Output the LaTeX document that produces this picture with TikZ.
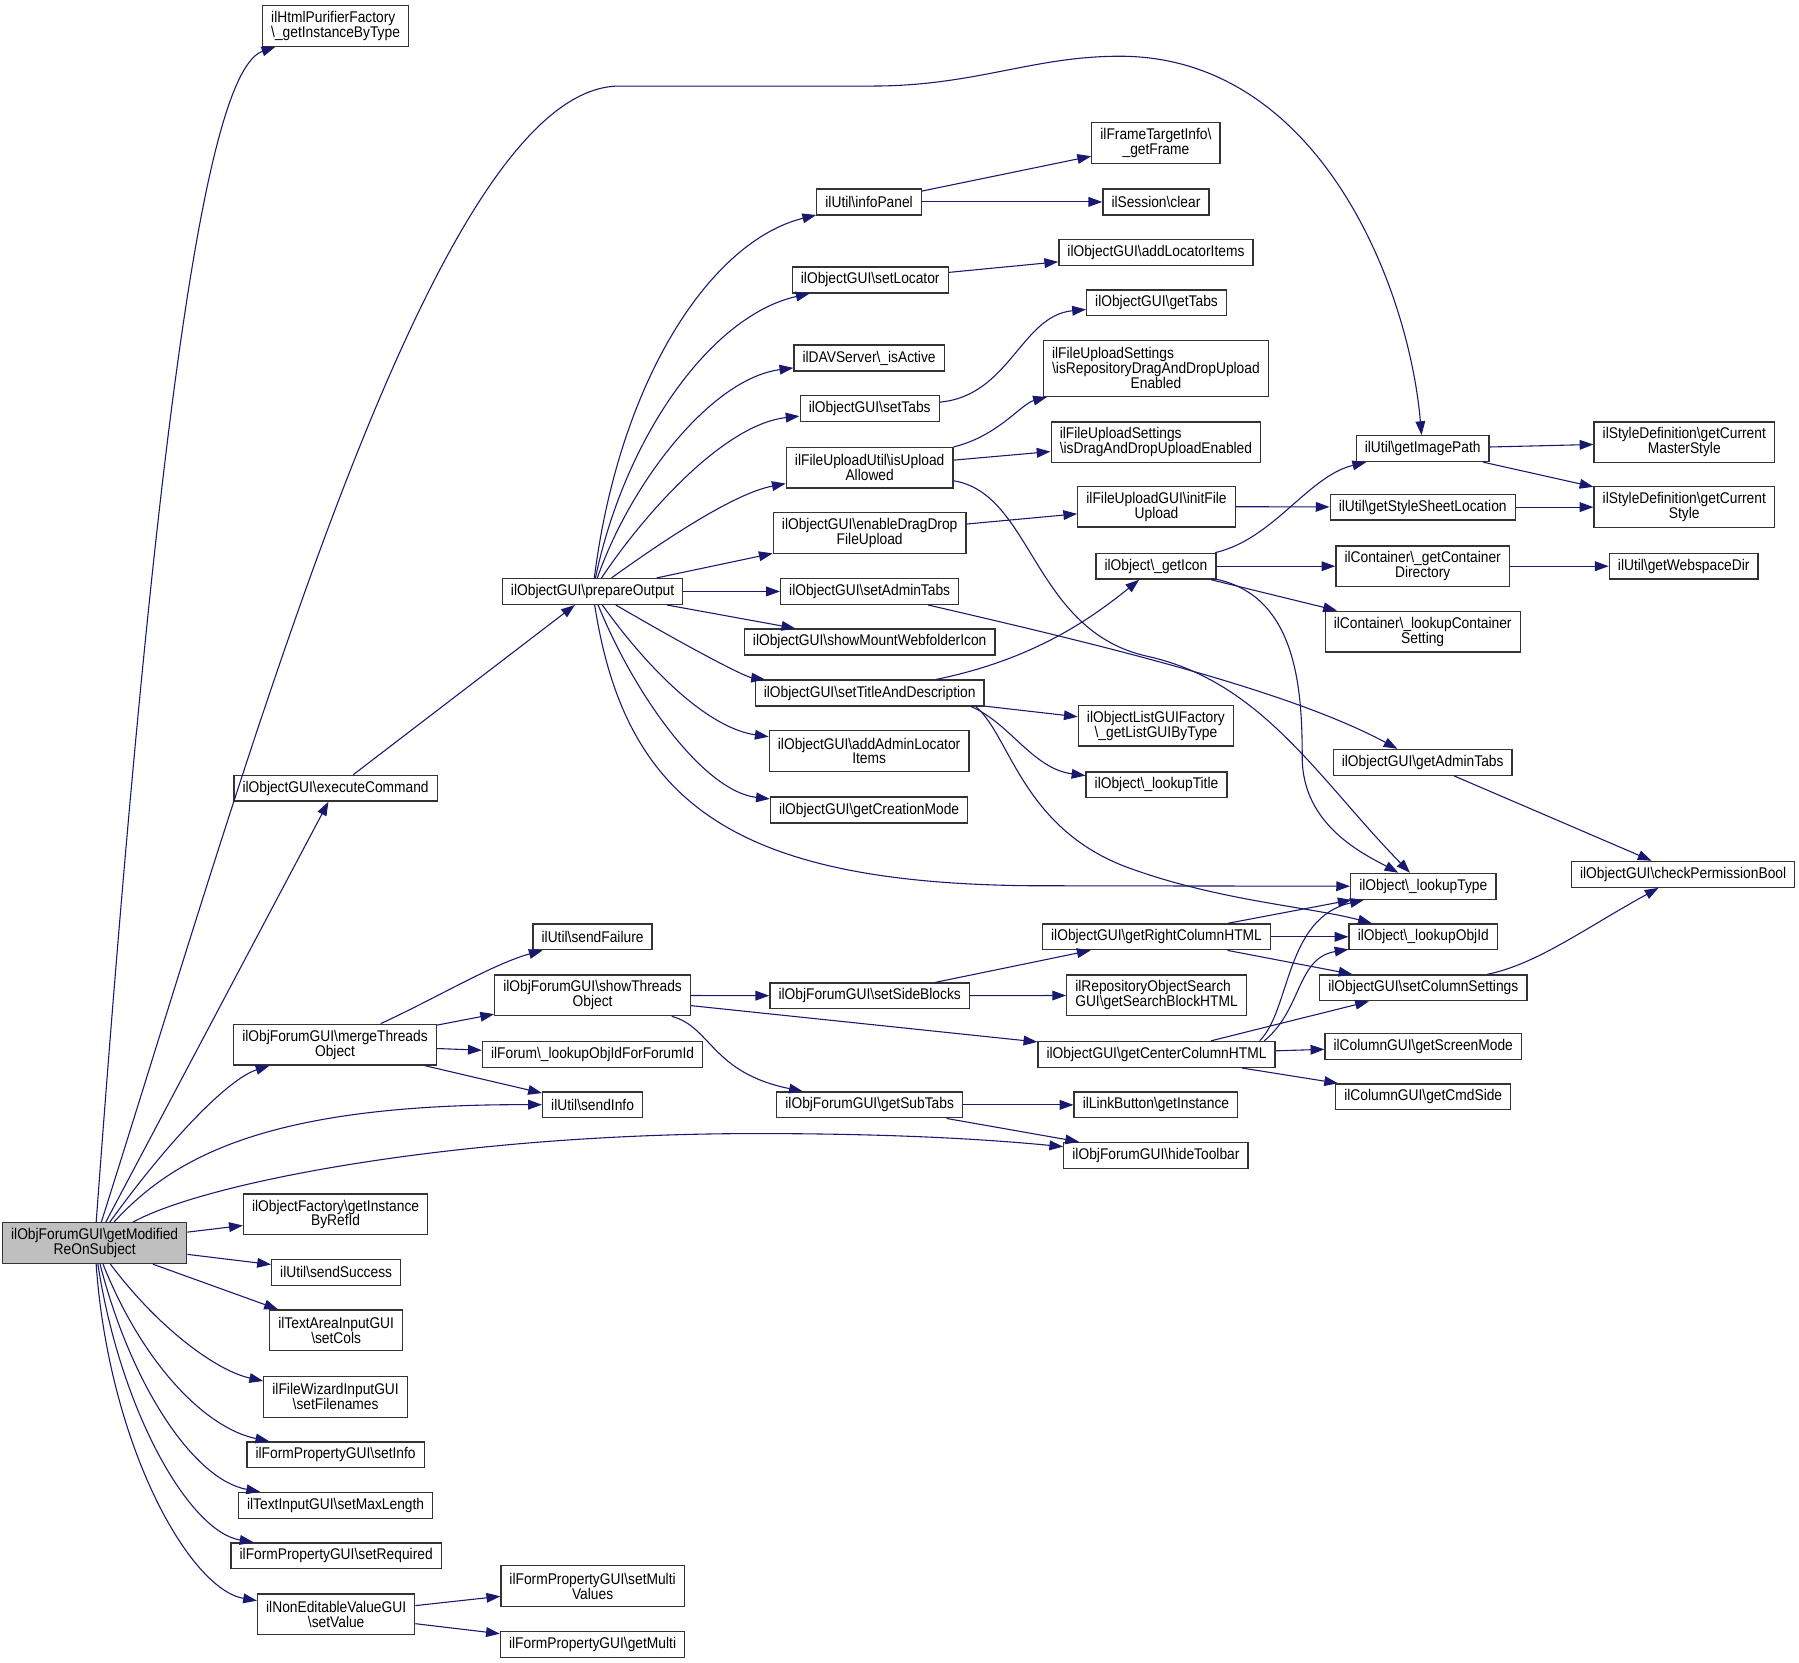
\documentclass[tikz,border=0pt]{standalone}
\usepackage{fontspec}
\setmainfont{Liberation Sans}[FakeStretch=0.89]
\usetikzlibrary{arrows.meta}
\definecolor{edgeblue}{HTML}{191970}
\definecolor{rootgray}{HTML}{BFBFBF}
\newcommand\bs{\textbackslash{}}

\begin{document}
\begin{tikzpicture}[x=1pt, y=1pt,
    fn/.style={draw=black!80, line width=1.15pt, inner xsep=7.5pt, inner ysep=1pt,
      minimum height=22.5pt, align=center, font=\fontsize{13.5}{13}\selectfont},
    fn2/.style={fn, minimum height=35.5pt},
    fn3/.style={fn, minimum height=49pt},
    call/.style={-{Triangle[length=12pt,width=8.5pt]}, draw=edgeblue, line width=0.95pt}]
  \useasboundingbox (0,0) rectangle (1568,-1449);

  \node [fn2, fill=rootgray] (root) at (82.5,-1083.5) {ilObjForumGUI\bs getModified\\ReOnSubject};

  \node [fn2, align=left] (pur) at (292.5,-22.5) {ilHtmlPurifierFactory\\\bs\_getInstanceByType};
  \node [fn] (exec) at (292.5,-687) {ilObjectGUI\bs executeCommand};
  \node [fn2] (merge) at (292,-910.5) {ilObjForumGUI\bs mergeThreads\\Object};
  \node [fn2] (objfac) at (292.5,-1058.5) {ilObjectFactory\bs getInstance\\ByRefId};
  \node [fn] (succ) at (293,-1109) {ilUtil\bs sendSuccess};
  \node [fn2] (cols) at (293,-1159.5) {ilTextAreaInputGUI\\\bs setCols};
  \node [fn2] (fnames) at (292.5,-1217.5) {ilFileWizardInputGUI\\\bs setFilenames};
  \node [fn] (setinfo) at (292.5,-1268) {ilFormPropertyGUI\bs setInfo};
  \node [fn] (maxlen) at (292.5,-1312) {ilTextInputGUI\bs setMaxLength};
  \node [fn] (req) at (293,-1356) {ilFormPropertyGUI\bs setRequired};
  \node [fn2] (setval) at (293,-1407) {ilNonEditableValueGUI\\\bs setValue};

  \node [fn] (prep) at (516.5,-515.5) {ilObjectGUI\bs prepareOutput};
  \node [fn] (fail) at (516.5,-816.5) {ilUtil\bs sendFailure};
  \node [fn2] (threads) at (516.5,-867.5) {ilObjForumGUI\bs showThreads\\Object};
  \node [fn] (forumid) at (516.5,-919) {ilForum\bs\_lookupObjIdForForumId};
  \node [fn] (sinfo) at (516.5,-963) {ilUtil\bs sendInfo};
  \node [fn2] (multiv) at (516.5,-1382.5) {ilFormPropertyGUI\bs setMulti\\Values};
  \node [fn] (getmulti) at (516.5,-1433.5) {ilFormPropertyGUI\bs getMulti};

  \node [fn] (infopanel) at (757.5,-176) {ilUtil\bs infoPanel};
  \node [fn] (setloc) at (758.5,-244) {ilObjectGUI\bs setLocator};
  \node [fn] (dav) at (757.5,-312) {ilDAVServer\bs\_isActive};
  \node [fn] (settabs) at (758,-356) {ilObjectGUI\bs setTabs};
  \node [fn2] (upallowed) at (758,-407.5) {ilFileUploadUtil\bs isUpload\\Allowed};
  \node [fn2] (dragdrop) at (758,-464.5) {ilObjectGUI\bs enableDragDrop\\FileUpload};
  \node [fn] (admintabs) at (758,-515.5) {ilObjectGUI\bs setAdminTabs};
  \node [fn] (mount) at (758,-559.5) {ilObjectGUI\bs showMountWebfolderIcon};
  \node [fn] (titledesc) at (758,-604) {ilObjectGUI\bs setTitleAndDescription};
  \node [fn2] (adminloc) at (757.5,-654.5) {ilObjectGUI\bs addAdminLocator\\Items};
  \node [fn] (creation) at (757.5,-706) {ilObjectGUI\bs getCreationMode};
  \node [fn] (sideblocks) at (758,-868) {ilObjForumGUI\bs setSideBlocks};
  \node [fn] (subtabs) at (758,-963) {ilObjForumGUI\bs getSubTabs};

  \node [fn2] (frame) at (1007.5,-124.5) {ilFrameTargetInfo\bs\\\_getFrame};
  \node [fn] (sessclear) at (1007.5,-176) {ilSession\bs clear};
  \node [fn] (addloc) at (1007.5,-220) {ilObjectGUI\bs addLocatorItems};
  \node [fn] (gettabs) at (1008,-264) {ilObjectGUI\bs getTabs};
  \node [fn3] (repodnd) at (1007.5,-321) {\rlap{ilFileUploadSettings}\hphantom{\bs isRepositoryDragAndDropUpload}\\\bs isRepositoryDragAndDropUpload\\Enabled};
  \node [fn2, align=left] (dnd) at (1007.5,-385.5) {ilFileUploadSettings\\\bs isDragAndDropUploadEnabled};
  \node [fn2] (initfile) at (1008,-441.5) {ilFileUploadGUI\bs initFile\\Upload};
  \node [fn] (geticon) at (1007.5,-493.5) {ilObject\bs\_getIcon};
  \node [fn2] (listgui) at (1007.5,-632.5) {ilObjectListGUIFactory\\\bs\_getListGUIByType};
  \node [fn] (lookuptitle) at (1008,-684) {ilObject\bs\_lookupTitle};
  \node [fn] (rightcol) at (1008,-816.5) {ilObjectGUI\bs getRightColumnHTML};
  \node [fn2, align=left] (searchblock) at (1008,-867.5) {ilRepositoryObjectSearch\\GUI\bs getSearchBlockHTML};
  \node [fn] (centercol) at (1008,-919) {ilObjectGUI\bs getCenterColumnHTML};
  \node [fn] (getinstance) at (1007.5,-963) {ilLinkButton\bs getInstance};
  \node [fn] (hide) at (1007.5,-1007) {ilObjForumGUI\bs hideToolbar};

  \node [fn] (imgpath) at (1240,-391) {ilUtil\bs getImagePath};
  \node [fn] (stylesheet) at (1240,-442) {ilUtil\bs getStyleSheetLocation};
  \node [fn2] (contdir) at (1240,-493.5) {ilContainer\bs\_getContainer\\Directory};
  \node [fn2] (contsetting) at (1240,-550.5) {ilContainer\bs\_lookupContainer\\Setting};
  \node [fn] (getadmintabs) at (1240,-664.5) {ilObjectGUI\bs getAdminTabs};
  \node [fn] (lookuptype) at (1240.5,-772.5) {ilObject\bs\_lookupType};
  \node [fn] (lookupobjid) at (1240.5,-816.5) {ilObject\bs\_lookupObjId};
  \node [fn] (colsettings) at (1240.5,-861) {ilObjectGUI\bs setColumnSettings};
  \node [fn] (screenmode) at (1240.5,-912) {ilColumnGUI\bs getScreenMode};
  \node [fn] (cmdside) at (1240.5,-956) {ilColumnGUI\bs getCmdSide};

  \node [fn2] (masterstyle) at (1468,-385.5) {ilStyleDefinition\bs getCurrent\\MasterStyle};
  \node [fn2] (curstyle) at (1468,-442) {ilStyleDefinition\bs getCurrent\\Style};
  \node [fn] (webspace) at (1467.5,-493.5) {ilUtil\bs getWebspaceDir};
  \node [fn] (checkperm) at (1467,-762) {ilObjectGUI\bs checkPermissionBool};

  \draw [call] (root) .. controls (140,-300) and (185,-60) .. (pur);
  \draw [call] (root) .. controls (220,-650) and (380,-75) .. (540,-75) -- (760,-75)
    .. controls (850,-75) and (900,-49) .. (976,-49) .. controls (1150,-49) and (1228,-250) .. (imgpath);
  \draw [call] (root) -- (exec);
  \draw [call] (root) .. controls (150,-990) and (200,-940) .. (merge);
  \draw [call] (root) .. controls (150,-1010) and (230,-962) .. (sinfo);
  \draw [call] (root) .. controls (180,-1030) and (400,-988) .. (660,-988)
    .. controls (800,-988) and (880,-995) .. (hide);
  \draw [call] (root) -- (objfac);
  \draw [call] (root) -- (succ);
  \draw [call] (root) -- (cols);
  \draw [call] (root) .. controls (140,-1160) and (190,-1195) .. (fnames);
  \draw [call] (root) .. controls (125,-1190) and (180,-1245) .. (setinfo);
  \draw [call] (root) .. controls (115,-1210) and (170,-1290) .. (maxlen);
  \draw [call] (root) .. controls (105,-1230) and (165,-1335) .. (req);
  \draw [call] (root) .. controls (95,-1260) and (165,-1385) .. (setval);

  \draw [call] (exec) -- (prep);

  \draw [call] (prep) .. controls (540,-330) and (620,-210) .. (infopanel);
  \draw [call] (prep) .. controls (545,-380) and (620,-275) .. (setloc);
  \draw [call] (prep) .. controls (550,-420) and (620,-330) .. (dav);
  \draw [call] (prep) .. controls (560,-450) and (630,-370) .. (settabs);
  \draw [call] (prep) .. controls (580,-470) and (640,-430) .. (upallowed);
  \draw [call] (prep) -- (dragdrop);
  \draw [call] (prep) -- (admintabs);
  \draw [call] (prep) -- (mount);
  \draw [call] (prep) .. controls (610,-570) and (650,-590) .. (titledesc);
  \draw [call] (prep) .. controls (570,-590) and (620,-635) .. (adminloc);
  \draw [call] (prep) .. controls (555,-610) and (615,-690) .. (creation);
  \draw [call] (prep) .. controls (545,-700) and (640,-770) .. (900,-772) -- (lookuptype);

  \draw [call] (infopanel) -- (frame);
  \draw [call] (infopanel) -- (sessclear);
  \draw [call] (setloc) -- (addloc);
  \draw [call] (settabs) .. controls (880,-345) and (890,-275) .. (gettabs);
  \draw [call] (upallowed) .. controls (870,-380) and (890,-352) .. (repodnd);
  \draw [call] (upallowed) -- (dnd);
  \draw [call] (upallowed) .. controls (900,-430) and (900,-550) .. (1000,-572)
    .. controls (1100,-594) and (1150,-680) .. (lookuptype);
  \draw [call] (dragdrop) -- (initfile);
  \draw [call] (initfile) -- (stylesheet);
  \draw [call] (stylesheet) -- (curstyle);
  \draw [call] (imgpath) -- (masterstyle);
  \draw [call] (imgpath) -- (curstyle);
  \draw [call] (geticon) .. controls (1110,-470) and (1140,-415) .. (imgpath);
  \draw [call] (geticon) -- (contdir);
  \draw [call] (geticon) -- (contsetting);
  \draw [call] (geticon) .. controls (1130,-520) and (1135,-600) .. (1135,-660)
    .. controls (1135,-720) and (1190,-745) .. (lookuptype);
  \draw [call] (contdir) -- (webspace);
  \draw [call] (admintabs) .. controls (950,-560) and (1120,-600) .. (getadmintabs);
  \draw [call] (getadmintabs) -- (checkperm);

  \draw [call] (titledesc) .. controls (900,-575) and (950,-540) .. (geticon);
  \draw [call] (titledesc) -- (listgui);
  \draw [call] ([xshift=-12pt]titledesc.south east) .. controls (880,-630) and (900,-670) .. (lookuptitle);
  \draw [call] ([xshift=-8pt]titledesc.south east) .. controls (880,-640) and (890,-720) .. (980,-755)
    .. controls (1060,-785) and (1140,-790) .. (lookupobjid);

  \draw [call] (merge) .. controls (380,-870) and (430,-840) .. (fail);
  \draw [call] (merge) -- (threads);
  \draw [call] (merge) -- (forumid);
  \draw [call] (merge) -- (sinfo);
  \draw [call] (threads) -- (sideblocks);
  \draw [call] (threads) -- (centercol);
  \draw [call] (threads) .. controls (620,-895) and (620,-935) .. (subtabs);
  \draw [call] (sideblocks) -- (rightcol);
  \draw [call] (sideblocks) -- (searchblock);
  \draw [call] (subtabs) -- (getinstance);
  \draw [call] (subtabs) -- (hide);
  \draw [call] (rightcol) -- (lookuptype);
  \draw [call] (rightcol) -- (lookupobjid);
  \draw [call] (rightcol) -- (colsettings);
  \draw [call] ([xshift=-14pt]centercol.north east) .. controls (1125,-880) and (1120,-800) .. (lookuptype);
  \draw [call] ([xshift=-10pt]centercol.north east) .. controls (1135,-880) and (1130,-835) .. (lookupobjid);
  \draw [call] (centercol) -- (colsettings);
  \draw [call] (centercol) -- (screenmode);
  \draw [call] (centercol) -- (cmdside);
  \draw [call] (colsettings) .. controls (1340,-840) and (1380,-810) .. (checkperm);
  \draw [call] (setval) -- (multiv);
  \draw [call] (setval) -- (getmulti);
\end{tikzpicture}
\end{document}
